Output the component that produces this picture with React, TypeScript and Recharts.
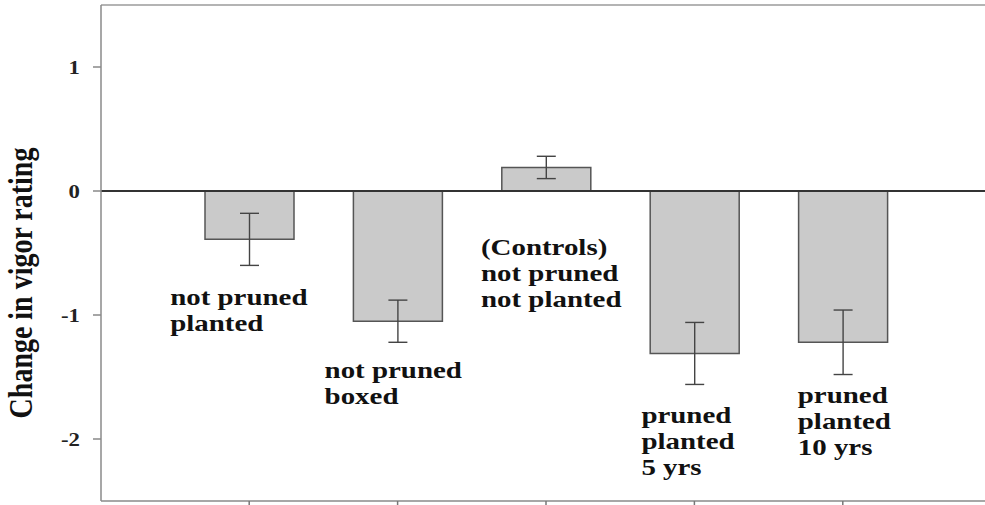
import { BarChart, Bar, XAxis, YAxis, ErrorBar, ReferenceLine, ReferenceDot } from 'recharts';

// treatment groups, mean change and standard error
const groups = ['npp', 'npb', 'ctrl', 'pp5', 'pp10'];
const meanChange = [-0.39, -1.05, 0.19, -1.31, -1.22];
const stdError = [0.21, 0.17, 0.09, 0.25, 0.26];
const yTicks = [-2, -1, 0, 1];

// text written beside each bar, and where its first line sits (in rating units)
const groupLabels = [
  ['not pruned', 'planted'],
  ['not pruned', 'boxed'],
  ['(Controls)', 'not pruned', 'not planted'],
  ['pruned', 'planted', '5 yrs'],
  ['pruned', 'planted', '10 yrs'],
];
const labelRating = [-0.92, -1.51, -0.52, -1.87, -1.71];
const labelShift = [-79, -73, -65, -53, -45];

const data = groups.map((g, i) => ({ name: g, value: meanChange[i], err: stdError[i] }));

const SERIF = '"Liberation Serif", "Times New Roman", Times, serif';
const STRETCH = 1.23;

const GroupLabel = ({ viewBox, lines, shift }: any) => {
  const x = viewBox.x + viewBox.width / 2 + shift;
  const y = viewBox.y + viewBox.height / 2;
  return (
    <g transform={`translate(${x},${y}) scale(${STRETCH},1)`}>
      <text fontFamily={SERIF} fontWeight="bold" fontSize={23.5} fill="#111">
        {lines.map((l: string, i: number) => (
          <tspan key={i} x={0} dy={i === 0 ? 0 : 26}>{l}</tspan>
        ))}
      </text>
    </g>
  );
};

const YTick = ({ x, y, payload }: any) => (
  <g transform={`translate(${x},${y}) scale(1.2,1)`}>
    <text textAnchor="end" dy={6.5} fontFamily={SERIF} fontWeight="bold" fontSize={19} fill="#222">
      {payload.value}
    </text>
  </g>
);

// bottom axis keeps its tick marks but shows no text
const NoTick = () => <g />;

const YTitle = ({ viewBox }: any) => {
  const x = viewBox.x + 32;
  const y = viewBox.y + viewBox.height / 2 + 30;
  return (
    <text
      transform={`translate(${x},${y}) scale(1.2,1) rotate(-90)`}
      textAnchor="middle"
      fontFamily={SERIF}
      fontWeight="bold"
      fontSize={28}
      fill="#111"
    >
      Change in vigor rating
    </text>
  );
};

export default function App() {
  return (
    <div style={{ position: 'absolute', left: 0, top: 0, width: 985, height: 505, overflow: 'hidden', background: '#fff' }}>
      <BarChart width={985} height={505} data={data} margin={{ top: 5, right: 0, bottom: 0, left: 0 }}>
        <XAxis
          dataKey="name"
          height={4}
          padding={{ left: 74, right: 68 }}
          tick={<NoTick />}
          tickSize={5}
          interval={0}
          axisLine={{ stroke: '#8a8a8a', strokeWidth: 1.5 }}
          tickLine={{ stroke: '#777', strokeWidth: 1.5 }}
        />
        <YAxis
          width={101}
          domain={[-2.5, 1.5]}
          ticks={yTicks}
          tickSize={8}
          tickMargin={13}
          tick={<YTick />}
          axisLine={{ stroke: '#8a8a8a', strokeWidth: 1.5 }}
          tickLine={{ stroke: '#888', strokeWidth: 1.5 }}
          label={(props: any) => <YTitle {...props} />}
        />
        <ReferenceLine y={1.5} stroke="#b4b4b4" strokeWidth={2} />
        <Bar dataKey="value" barSize={89} fill="#cacaca" stroke="#555" strokeWidth={1.5} isAnimationActive={false}>
          <ErrorBar dataKey="err" direction="y" width={9.5} stroke="#444" strokeWidth={1.4} />
        </Bar>
        <ReferenceLine y={0} stroke="#333" strokeWidth={2} />
        {groups.map((g, i) => (
          <ReferenceDot
            key={g}
            x={g}
            y={labelRating[i]}
            r={0}
            fill="none"
            stroke="none"
            label={(props: any) => <GroupLabel {...props} lines={groupLabels[i]} shift={labelShift[i]} />}
          />
        ))}
      </BarChart>
    </div>
  );
}
